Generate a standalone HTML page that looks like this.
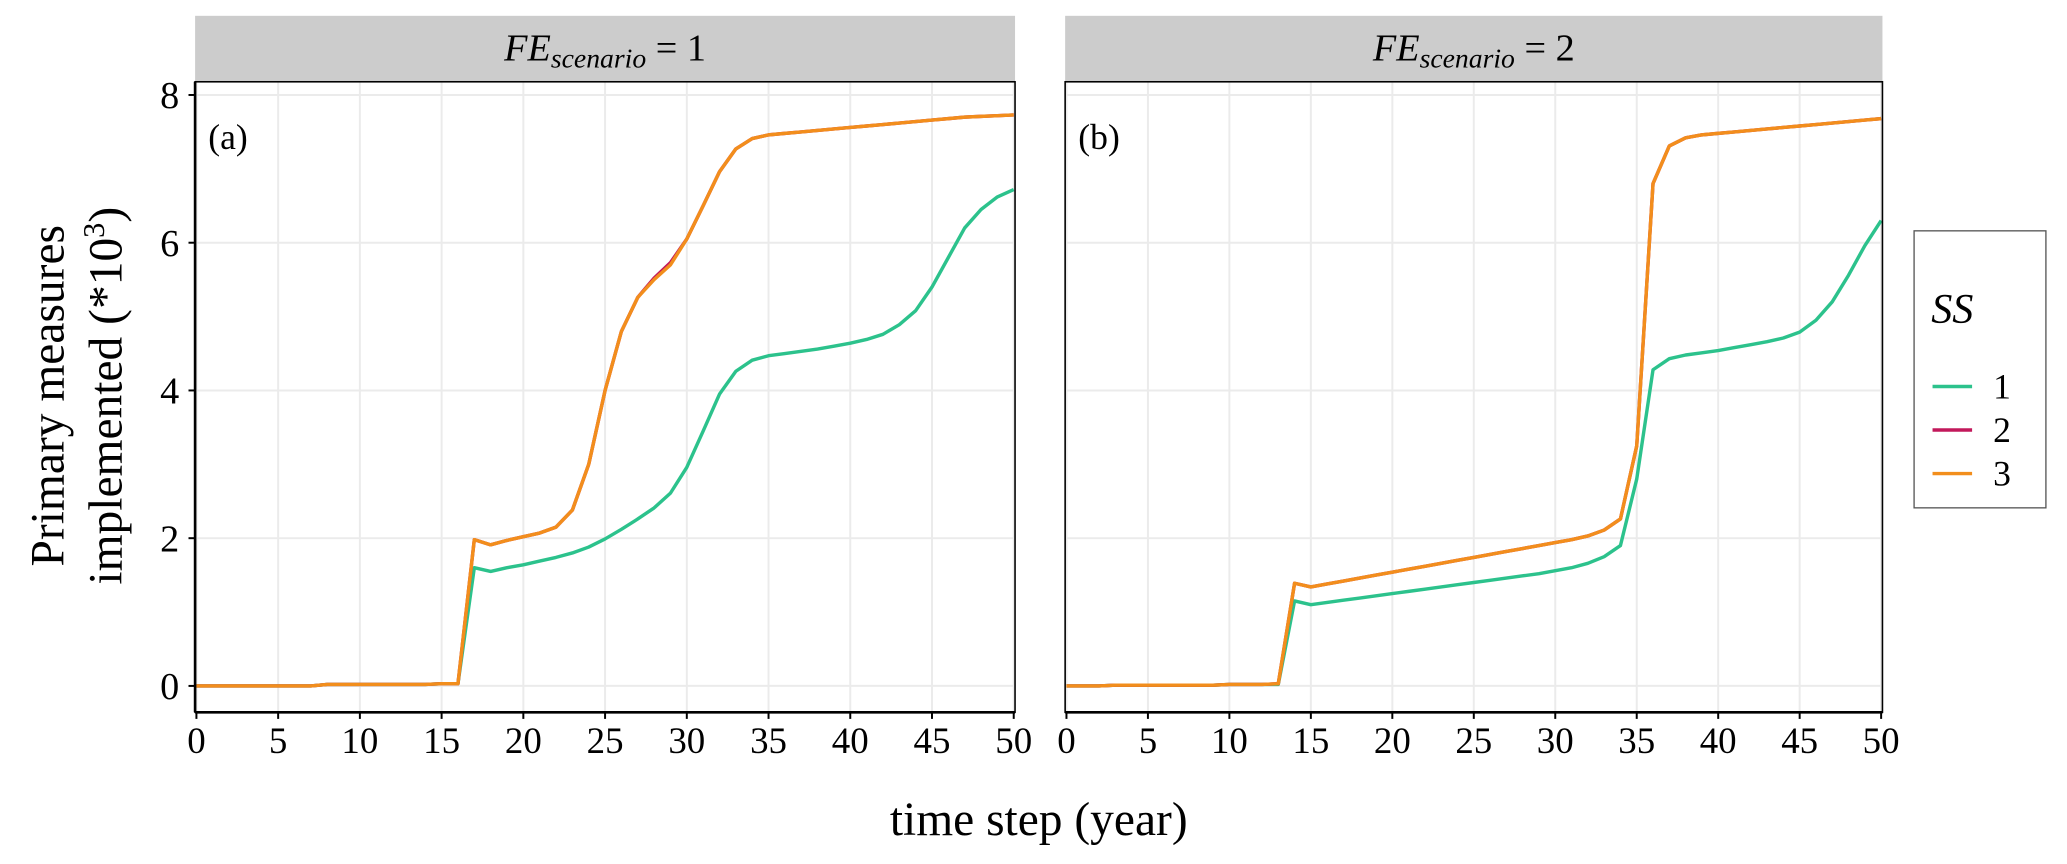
<!DOCTYPE html>
<html><head><meta charset="utf-8"><style>
html,body{margin:0;padding:0;background:#fff;}
svg{display:block;}
text{font-family:"Liberation Serif",serif;fill:#000;}
</style></head><body>
<svg id="chart" width="2067" height="864" viewBox="0 0 1568 655" preserveAspectRatio="none" xmlns="http://www.w3.org/2000/svg">
<g id="plotroot"></g>
</svg>
<script>
const steps = [0,1,2,3,4,5,6,7,8,9,10,11,12,13,14,15,16,17,18,19,20,21,22,23,24,25,26,27,28,29,30,31,32,33,34,35,36,37,38,39,40,41,42,43,44,45,46,47,48,49,50];
const xTicks = [0,5,10,15,20,25,30,35,40,45,50];
const yTicks = [0,2,4,6,8];
const seriesNames = ["1","2","3"];
const seriesColors = ["#2cc28c","#c2185b","#f28e1c"];
const panelLabels = ["(a)","(b)"];
const panelTitles = ["1","2"];
// Panel a
const a_ss1 = [0,0,0,0,0,0,0,0,0.02,0.02,0.02,0.02,0.02,0.02,0.02,0.03,0.03,1.6,1.55,1.6,1.64,1.69,1.74,1.8,1.88,1.99,2.12,2.26,2.41,2.61,2.96,3.45,3.95,4.26,4.41,4.47,4.5,4.53,4.56,4.6,4.64,4.69,4.76,4.89,5.08,5.4,5.8,6.2,6.45,6.62,6.72];
const a_ss2 = [0,0,0,0,0,0,0,0,0.02,0.02,0.02,0.02,0.02,0.02,0.02,0.03,0.03,1.98,1.91,1.97,2.02,2.07,2.15,2.38,3.0,4.0,4.8,5.26,5.52,5.73,6.05,6.5,6.96,7.27,7.41,7.46,7.48,7.5,7.52,7.54,7.56,7.58,7.6,7.62,7.64,7.66,7.68,7.7,7.71,7.72,7.73];
const a_ss3 = [0,0,0,0,0,0,0,0,0.02,0.02,0.02,0.02,0.02,0.02,0.02,0.03,0.03,1.98,1.91,1.97,2.02,2.07,2.15,2.38,3.0,4.0,4.8,5.26,5.5,5.7,6.05,6.5,6.96,7.27,7.41,7.46,7.48,7.5,7.52,7.54,7.56,7.58,7.6,7.62,7.64,7.66,7.68,7.7,7.71,7.72,7.73];
// Panel b
const b_ss1 = [0,0,0,0.01,0.01,0.01,0.01,0.01,0.01,0.01,0.02,0.02,0.02,0.02,1.15,1.1,1.13,1.16,1.19,1.22,1.25,1.28,1.31,1.34,1.37,1.4,1.43,1.46,1.49,1.52,1.56,1.6,1.66,1.75,1.9,2.8,4.28,4.43,4.48,4.51,4.54,4.58,4.62,4.66,4.71,4.79,4.95,5.2,5.56,5.96,6.3];
const b_ss2 = [0,0,0,0.01,0.01,0.01,0.01,0.01,0.01,0.01,0.02,0.02,0.02,0.03,1.39,1.34,1.38,1.42,1.46,1.5,1.54,1.58,1.62,1.66,1.7,1.74,1.78,1.82,1.86,1.9,1.94,1.98,2.03,2.11,2.26,3.25,6.8,7.31,7.42,7.46,7.48,7.5,7.52,7.54,7.56,7.58,7.6,7.62,7.64,7.66,7.68];
const b_ss3 = [0,0,0,0.01,0.01,0.01,0.01,0.01,0.01,0.01,0.02,0.02,0.02,0.03,1.39,1.34,1.38,1.42,1.46,1.5,1.54,1.58,1.62,1.66,1.7,1.74,1.78,1.82,1.86,1.9,1.94,1.98,2.03,2.11,2.26,3.25,6.8,7.31,7.42,7.46,7.48,7.5,7.52,7.54,7.56,7.58,7.6,7.62,7.64,7.66,7.68];

const NS="http://www.w3.org/2000/svg";
const plotRoot=document.getElementById('plotroot');
function mk(tag,attrs,parent){const e=document.createElementNS(NS,tag);for(const k in attrs)e.setAttribute(k,attrs[k]);(parent||plotRoot).appendChild(e);return e;}
const panels=[{x0:148,x1:770,series:[a_ss1,a_ss2,a_ss3]},{x0:808,x1:1428,series:[b_ss1,b_ss2,b_ss3]}];
const panelTop=62,panelBottom=540,stripTop=12;
function yS(v){return 520+(72-520)*(v/8);}
panels.forEach((p,pi)=>{
  const xS=v=>p.x0+1+(p.x1-p.x0-2)*(v/50);
  const g=mk('g',{});
  
  
  const strip=mk('rect',{x:p.x0,y:stripTop,width:p.x1-p.x0,height:panelTop-stripTop,fill:'#cccccc'},g);
  
  
  const st=mk('text',{x:(p.x0+p.x1)/2,y:46,'text-anchor':'middle','font-size':'29'},g);
  
  
  st.innerHTML='<tspan font-style="italic">FE</tspan><tspan font-style="italic" font-size="21" dy="5">scenario</tspan><tspan dy="-5"> = '+panelTitles[pi]+'</tspan>';
  mk('rect',{x:p.x0,y:panelTop,width:p.x1-p.x0,height:panelBottom-panelTop,fill:'#fff'},g);
  yTicks.forEach(v=>{const l=mk('line',{x1:p.x0,x2:p.x1,y1:yS(v),y2:yS(v),stroke:'#ebebeb','stroke-width':1.5},g);
    });
  xTicks.forEach(v=>{const l=mk('line',{x1:xS(v),x2:xS(v),y1:panelTop,y2:panelBottom,stroke:'#ebebeb','stroke-width':1.5},g);
    });
  p.series.forEach((s,si)=>{
    const d=s.map((v,i)=>(i?'L':'M')+xS(steps[i]).toFixed(2)+','+yS(v).toFixed(2)).join(' ');
    const path=mk('path',{d:d,fill:'none',stroke:seriesColors[si],'stroke-width':2.6,'stroke-linejoin':'round'},g);
    
    
  });
  const border=mk('rect',{x:p.x0,y:panelTop,width:p.x1-p.x0,height:panelBottom-panelTop,fill:'none',stroke:'#000','stroke-width':1.2},g);
  
  
  mk('line',{x1:p.x0,x2:p.x1,y1:panelBottom,y2:panelBottom,stroke:'#000','stroke-width':2},g);
  if(pi===0){mk('line',{x1:p.x0,x2:p.x0,y1:panelTop,y2:panelBottom,stroke:'#000','stroke-width':2},g);}
  const lab=mk('text',{x:p.x0+10,y:113,'font-size':'27','font-family':'Liberation Sans, sans-serif'},g);
  lab.textContent=panelLabels[pi];
  
  
  xTicks.forEach(v=>{
    mk('line',{x1:xS(v),x2:xS(v),y1:panelBottom,y2:panelBottom+5,stroke:'#000','stroke-width':1.5},g);
    const t=mk('text',{x:xS(v),y:panelBottom+31,'text-anchor':'middle','font-size':'28'},g);
    t.textContent=v;
    
    
  });
  if(pi===0){yTicks.forEach(v=>{
    mk('line',{x1:p.x0-5,x2:p.x0,y1:yS(v),y2:yS(v),stroke:'#000','stroke-width':1.5},g);
    const t=mk('text',{x:p.x0-12,y:yS(v)+10,'text-anchor':'end','font-size':'29'},g);
    t.textContent=v;
    
    
  });}
});
const xt=mk('text',{x:788,y:633,'text-anchor':'middle','font-size':'36'});
xt.textContent='time step (year)';


const yt=mk('text',{transform:'translate(48,300) rotate(-90)','text-anchor':'middle','font-size':'36'});
yt.textContent='Primary measures';


const yt2=mk('text',{transform:'translate(92,300) rotate(-90)','text-anchor':'middle','font-size':'36'});
yt2.innerHTML='implemented (*10<tspan font-size="23" dy="-13">3</tspan><tspan dy="13">)</tspan>';


const lg=mk('g',{});


mk('rect',{x:1452,y:175,width:100,height:210,fill:'#fff',stroke:'#555','stroke-width':1},lg);
const lt=mk('text',{x:1465,y:245,'font-size':'32','font-style':'italic'},lg);
lt.textContent='SS';


seriesNames.forEach((n,i)=>{
  const y=293+i*33;
  const l=mk('line',{x1:1466,x2:1496,y1:y,y2:y,stroke:seriesColors[i],'stroke-width':2.6},lg);
  
  
  const t=mk('text',{x:1512,y:y+9,'font-size':'27'},lg);
  t.textContent=n;
  
  
});
</script>
</body></html>
